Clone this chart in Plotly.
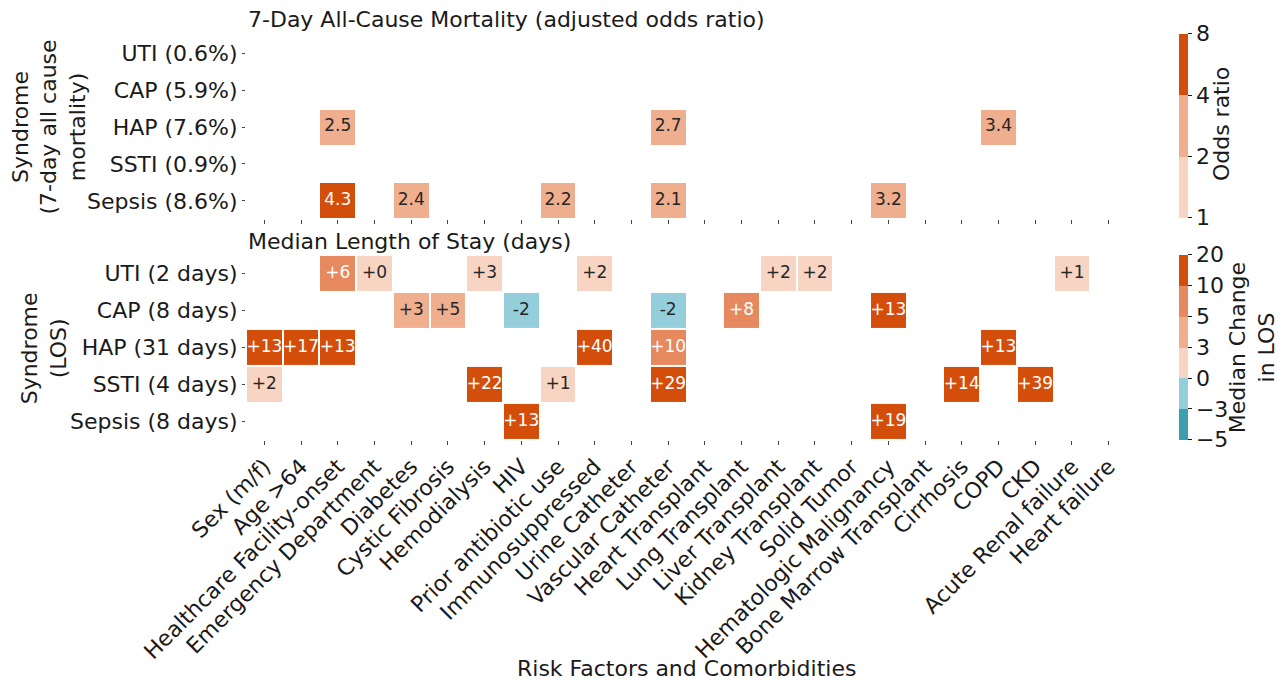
import math
import plotly.graph_objects as go

factors = ["Sex (m/f)", "Age >64", "Healthcare Facility-onset", "Emergency Department",
           "Diabetes", "Cystic Fibrosis", "Hemodialysis", "HIV", "Prior antibiotic use",
           "Immunosuppressed", "Urine Catheter", "Vascular Catheter", "Heart Transplant",
           "Lung Transplant", "Liver Transplant", "Kidney Transplant", "Solid Tumor",
           "Hematologic Malignancy", "Bone Marrow Transplant", "Cirrhosis", "COPD", "CKD",
           "Acute Renal failure", "Heart failure"]

mort_rows = ["UTI (0.6%)", "CAP (5.9%)", "HAP (7.6%)", "SSTI (0.9%)", "Sepsis (8.6%)"]
los_rows = ["UTI (2 days)", "CAP (8 days)", "HAP (31 days)", "SSTI (4 days)", "Sepsis (8 days)"]

N = None
# adjusted odds ratios (rows = mort_rows, cols = factors)
or_uti    = [N]*24
or_cap    = [N]*24
or_hap    = [N, N, 2.5, N, N, N, N, N, N, N, N, 2.7, N, N, N, N, N, N, N, N, 3.4, N, N, N]
or_ssti   = [N]*24
or_sepsis = [N, N, 4.3, N, 2.4, N, N, N, 2.2, N, N, 2.1, N, N, N, N, N, 3.2, N, N, N, N, N, N]

# median change in LOS (days) (rows = los_rows)
los_uti    = [N, N, 6, 0.2, N, N, 2.8, N, N, 2, N, N, N, N, 2, 2, N, N, N, N, N, N, 1, N]
los_cap    = [N, N, N, N, 3.2, 4.7, N, -2, N, N, N, -2, N, 8, N, N, N, 13, N, N, N, N, N, N]
los_hap    = [13, 17, 13, N, N, N, N, N, N, 40, N, 9.7, N, N, N, N, N, N, N, N, 13, N, N, N]
los_ssti   = [2, N, N, N, N, N, 22, N, 1, N, N, 29, N, N, N, N, N, N, N, 14, N, 39, N, N]
los_sepsis = [N, N, N, N, N, N, N, 13, N, N, N, N, N, N, N, N, N, 19, N, N, N, N, N, N]

or_bounds = [1, 2, 4, 8]
or_colors = ["#f8d4c2", "#efae8e", "#d44e0b"]
los_bounds = [-5, -3, 0, 3, 5, 10, 20]
los_colors = ["#3b9fb2", "#94cedb", "#f8d4c2", "#efae8e", "#e6895e", "#d44e0b"]

FONT = "DejaVu Sans"
TXT = "#1a1a1a"
FS = 22


def bin_pos(v, bounds):
    """Piecewise position in equal-height bins (BoundaryNorm-like)."""
    if v is None:
        return None
    n = len(bounds) - 1
    for i in range(n):
        if v < bounds[i + 1]:
            lo, hi = bounds[i], bounds[i + 1]
            return i + max(0.0, (v - lo) / (hi - lo))
    return n - 1e-3


def bin_index(v, bounds):
    return min(int(bin_pos(v, bounds)), len(bounds) - 2)


def discrete_scale(colors):
    n = len(colors)
    cs = []
    for i, c in enumerate(colors):
        cs.append([i / n, c])
        cs.append([(i + 1) / n, c])
    return cs


or_mat = [or_uti, or_cap, or_hap, or_ssti, or_sepsis]
los_mat = [los_uti, los_cap, los_hap, los_ssti, los_sepsis]

or_z = [[bin_pos(v, or_bounds) for v in row] for row in or_mat]
los_z = [[bin_pos(v, los_bounds) for v in row] for row in los_mat]

fig = go.Figure()

cb_common = dict(
    x=1.059, xanchor="left", xpad=0, ypad=0, yanchor="middle",
    thickness=9, outlinewidth=0, ticks="outside", ticklen=4, tickcolor=TXT,
    tickfont=dict(family=FONT, size=FS, color=TXT),
)

fig.add_trace(go.Heatmap(
    z=or_z, x=factors, y=mort_rows, customdata=or_mat,
    colorscale=discrete_scale(or_colors), zmin=0, zmax=3,
    xgap=2, ygap=2, xaxis="x", yaxis="y",
    hovertemplate="%{y}<br>%{x}<br>OR %{customdata}<extra></extra>",
    colorbar=dict(
        **cb_common, y=0.776, len=0.455,
        tickvals=[0, 1, 2, 3], ticktext=[str(b) for b in or_bounds],
    ),
))

fig.add_trace(go.Heatmap(
    z=los_z, x=factors, y=los_rows, customdata=los_mat,
    colorscale=discrete_scale(los_colors), zmin=0, zmax=6,
    xgap=2, ygap=2, xaxis="x2", yaxis="y2",
    hovertemplate="%{y}<br>%{x}<br>%{customdata} days<extra></extra>",
    colorbar=dict(
        **cb_common, y=0.229, len=0.457,
        tickvals=list(range(7)), ticktext=["\u22125", "\u22123", "0", "3", "5", "10", "20"],
    ),
))

# cell labels
def add_labels(mat, rows, bounds, fmt, dark_from, xa, ya):
    xs, ys, ts, cs = [], [], [], []
    for r, row in zip(rows, mat):
        for f, v in zip(factors, row):
            if v is None:
                continue
            xs.append(f)
            ys.append(r)
            ts.append(fmt(v))
            cs.append("white" if bin_index(v, bounds) >= dark_from else "#262626")
    fig.add_trace(go.Scatter(
        x=xs, y=ys, text=ts, mode="text", xaxis=xa, yaxis=ya,
        textfont=dict(family=FONT, size=17, color=cs),
        hoverinfo="skip", showlegend=False,
    ))


add_labels(or_mat, mort_rows, or_bounds, lambda v: f"{v:.1f}", 2, "x", "y")
add_labels(los_mat, los_rows, los_bounds, lambda v: f"{v:+.0f}", 4, "x2", "y2")

axis_common = dict(
    type="category", categoryorder="array", categoryarray=factors,
    range=[-0.5, len(factors) - 0.5], showgrid=False, zeroline=False, showline=False,
    ticks="outside", ticklen=4, tickcolor="#444", tickwidth=1, automargin=False,
)
yaxis_common = dict(
    type="category", categoryorder="array", showgrid=False, zeroline=False, showline=False,
    ticks="outside", ticklen=3, tickcolor="#444", automargin=False,
    tickfont=dict(family=FONT, size=FS, color=TXT),
)


def note(text, x, y, xanchor="center", angle=0):
    return dict(text=text, x=x, y=y, xref="paper", yref="paper", xanchor=xanchor,
                yanchor="middle", showarrow=False, textangle=angle,
                font=dict(family=FONT, size=FS, color=TXT))


# page body adds an 8px offset; figure sized so it ends at the window edge
fig.update_layout(
    width=1276, height=677,
    margin=dict(l=238, r=157, t=27, b=245, autoexpand=False),
    paper_bgcolor="white", plot_bgcolor="white",
    font=dict(family=FONT, size=FS, color=TXT),
    showlegend=False,
    xaxis=dict(**axis_common, anchor="y", showticklabels=False),
    xaxis2=dict(**axis_common, anchor="y2", matches="x", showticklabels=True, tickangle=-45,
                tickfont=dict(family=FONT, size=FS, color=TXT)),
    yaxis=dict(**yaxis_common, domain=[0.545, 1.0], categoryarray=mort_rows,
               range=[len(mort_rows) - 0.5, -0.5]),
    yaxis2=dict(**yaxis_common, domain=[0.0, 0.457], categoryarray=los_rows,
                range=[len(los_rows) - 0.5, -0.5]),
    annotations=[
        note("7-Day All-Cause Mortality (adjusted odds ratio)", 0, 1.038, "left"),
        note("Median Length of Stay (days)", 0, 0.491, "left"),
        note("Syndrome<br>(7-day all cause<br>mortality)", -0.224, 0.773, angle=-90),
        note("Syndrome<br>(LOS)", -0.229, 0.227, angle=-90),
        note("Risk Factors and Comorbidities", 0.5, -0.563),
        note("Odds ratio", 1.1067, 0.780, angle=-90),
        note("Median Change<br>in LOS", 1.142, 0.227, angle=-90),
    ],
)

fig.write_html("out.html")
